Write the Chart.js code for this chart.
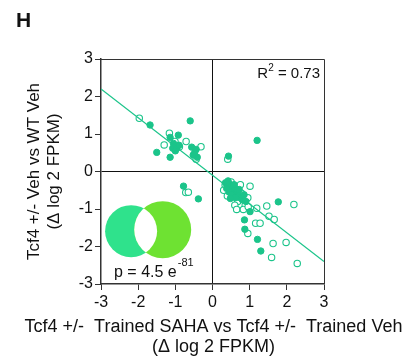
<!DOCTYPE html>
<html lang="en">
<head>
<meta charset="UTF-8">
<title>Tcf4 scatter</title>
<script src="https://cdn.jsdelivr.net/npm/chart.js"></script>
<style>
    body { margin: 0; background: #fff; }
    .wrap { position: relative; width: 415px; height: 362px; }
    .panel {
        position: absolute; left: 16px; top: 8px;
        font: bold 21px "Liberation Sans", Arial, sans-serif; color: #111;
    }
</style>
</head>
<body>
<div class="wrap">
    <div class="panel">H</div>
    <canvas id="chart" width="415" height="362"></canvas>
</div>
<script>
// values
const filledX = [-1.68, -0.60, -1.14, -0.92, -1.50, -1.14, -1.07, -0.96, -0.56, -0.44, -0.41, -0.52, -1.00, -0.90, -0.48, -1.05,
    0.43, 1.20, -0.78, -0.38,
    0.35, 0.40, 0.45, 0.50, 0.38, 0.55, 0.60, 0.45, 0.65, 0.70, 0.52, 0.75, 0.80, 0.62, 0.90, 0.42, 0.58, 0.72, 0.85, 0.48,
    1.77, 1.01, 0.86, 0.87, 1.21, 1.30];
const filledY = [1.24, 1.35, 0.91, 0.97, 0.51, 0.38, 0.62, 0.62, 0.65, 0.59, 0.38, 0.44, 0.55, 0.70, 0.50, 0.75,
    0.41, 0.83, -0.39, -0.73,
    -0.30, -0.35, -0.33, -0.40, -0.45, -0.45, -0.50, -0.55, -0.55, -0.62, -0.62, -0.70, -0.75, -0.70, -0.80, -0.25, -0.35, -0.48, -0.62, -0.72,
    -0.81, -1.07, -1.29, -1.54, -1.81, -2.12];
const openX = [-1.97, -1.16, -1.30, -0.89, -0.71, -1.01, -0.31, -0.44, 0.41, -0.72, -0.65,
    0.34, 0.42, 0.65, 1.01, 0.30, 0.55, 0.78, 0.95, 0.68, 0.40, 0.88, 0.60, 0.50, 0.75,
    2.19, 0.65, 0.83, 0.96, 1.19, 1.46, 1.52, 1.66, 1.16, 1.28, 0.95, 1.63, 1.98, 1.59, 2.28];
const openY = [1.42, 1.02, 0.71, 0.66, 0.80, 0.80, 0.66, 0.33, 0.33, -0.56, -0.55,
    -0.36, -0.41, -0.41, -0.39, -0.50, -0.58, -0.58, -0.70, -0.80, -0.65, -0.90, -0.90, -0.28, -0.35,
    -0.88, -1.01, -1.01, -0.94, -0.98, -0.92, -1.19, -1.28, -1.38, -1.38, -1.65, -1.92, -1.89, -2.29, -2.45];
const fitX = [-3, 3];
const fitY = [2.2, -2.4];
const axisTicks = [-3, -2, -1, 0, 1, 2, 3];
const xTitle = ['Tcf4 +/-  Trained SAHA vs Tcf4 +/-  Trained Veh', '(\u0394 log 2 FPKM)'];
const yTitle = ['Tcf4 +/- Veh vs WT Veh', '(\u0394 log 2 FPKM)'];
const rSquared = '0.73';
const pMantissa = '4.5';
const pExponent = '-81';

const teal = '#1bc48a';
const font = '"Liberation Sans", Arial, sans-serif';

function toPoints(xs, ys) {
    return xs.map((x, i) => ({ x: x, y: ys[i] }));
}

const extras = {
    id: 'extras',
    beforeDatasetsDraw(chart) {
        const { ctx, chartArea: a, scales: { x, y } } = chart;
        // top and right frame
        ctx.save();
        ctx.strokeStyle = '#333';
        ctx.lineWidth = 1;
        ctx.beginPath();
        ctx.moveTo(a.left, a.top + 0.5);
        ctx.lineTo(a.right + 0.5, a.top + 0.5);
        ctx.lineTo(a.right + 0.5, a.bottom);
        ctx.stroke();

        // venn overlap sketch
        const c1 = { x: x.getPixelForValue(-2.19), y: y.getPixelForValue(-1.59), r: 26 };
        const c2 = { x: x.getPixelForValue(-1.34), y: y.getPixelForValue(-1.55), r: 28.5 };
        ctx.fillStyle = '#2fe28c';
        ctx.beginPath(); ctx.arc(c1.x, c1.y, c1.r, 0, Math.PI * 2); ctx.fill();
        ctx.fillStyle = '#6ee232';
        ctx.beginPath(); ctx.arc(c2.x, c2.y, c2.r, 0, Math.PI * 2); ctx.fill();
        ctx.beginPath(); ctx.arc(c1.x, c1.y, c1.r, 0, Math.PI * 2); ctx.clip();
        ctx.fillStyle = '#fff';
        ctx.beginPath(); ctx.arc(c2.x, c2.y, c2.r, 0, Math.PI * 2); ctx.fill();
        ctx.restore();
    },
    afterDraw(chart) {
        const { ctx, chartArea: a, scales: { x, y } } = chart;
        ctx.save();
        ctx.fillStyle = '#111';
        ctx.textBaseline = 'alphabetic';
        ctx.textAlign = 'left';

        // R^2 label
        ctx.font = '15px ' + font;
        const rest = ' = ' + rSquared;
        const wR = ctx.measureText('R').width;
        const wRest = ctx.measureText(rest).width;
        ctx.font = '10px ' + font;
        const wSup = ctx.measureText('2').width;
        let rx = a.right - 4 - wR - wSup - wRest;
        const ry = a.top + 19;
        ctx.font = '15px ' + font;
        ctx.fillText('R', rx, ry);
        ctx.font = '10px ' + font;
        ctx.fillText('2', rx + wR, ry - 7);
        ctx.font = '15px ' + font;
        ctx.fillText(rest, rx + wR + wSup, ry);

        // p value
        const px = x.getPixelForValue(-2.65);
        const py = y.getPixelForValue(-2.81);
        const main = 'p = ' + pMantissa + ' e';
        ctx.font = '16px ' + font;
        ctx.fillText(main, px, py);
        const wm = ctx.measureText(main).width;
        ctx.font = '11px ' + font;
        ctx.fillText(pExponent, px + wm + 1, py - 11);

        // x axis title, two centred lines (drawn here so it is not squeezed to the axis width)
        ctx.textAlign = 'center';
        ctx.textBaseline = 'middle';
        ctx.font = '18px ' + font;
        const cx = (a.left + a.right) / 2 + 1;
        ctx.fillText(xTitle[0], cx, a.bottom + 43);
        ctx.fillText(xTitle[1], cx, a.bottom + 63);
        ctx.restore();
    }
};

function zeroGrid(c) {
    return c.tick && c.tick.value === 0 ? '#111' : 'rgba(0,0,0,0)';
}

new Chart(document.getElementById('chart'), {
    type: 'scatter',
    data: {
        datasets: [
            {
                type: 'line',
                data: toPoints(fitX, fitY),
                borderColor: teal,
                borderWidth: 1.2,
                pointRadius: 0,
                fill: false
            },
            {
                data: toPoints(filledX, filledY),
                backgroundColor: teal,
                borderColor: teal,
                borderWidth: 1,
                pointRadius: 3.2
            },
            {
                data: toPoints(openX, openY),
                backgroundColor: '#fff',
                borderColor: teal,
                borderWidth: 1.1,
                pointRadius: 3.2
            }
        ]
    },
    options: {
        responsive: false,
        animation: false,
        layout: { padding: { left: 12, right: 91, top: 59, bottom: 1 } },
        plugins: { legend: { display: false }, tooltip: { enabled: false } },
        scales: {
            x: {
                type: 'linear',
                min: -3, max: 3,
                afterBuildTicks: s => { s.ticks = axisTicks.map(v => ({ value: v })); },
                afterFit: s => { s.height = 77; },
                border: { display: true, color: '#333', width: 1.5 },
                grid: { color: zeroGrid, tickColor: '#333', tickLength: 6, lineWidth: 1 },
                ticks: { color: '#111', padding: 3, font: { family: font, size: 16 } },
                title: { display: false }
            },
            y: {
                type: 'linear',
                min: -3, max: 3,
                afterBuildTicks: s => { s.ticks = axisTicks.map(v => ({ value: v })); },
                afterFit: s => { s.width = 89; },
                border: { display: true, color: '#333', width: 1.5 },
                grid: { color: zeroGrid, tickColor: '#333', tickLength: 6, lineWidth: 1 },
                ticks: { color: '#111', padding: 2, font: { family: font, size: 16 } },
                title: {
                    display: true,
                    text: yTitle,
                    color: '#111',
                    font: { family: font, size: 17, lineHeight: 1.15 },
                    padding: { top: 13, bottom: 0 }
                }
            }
        }
    },
    plugins: [extras]
});
</script>
</body>
</html>
